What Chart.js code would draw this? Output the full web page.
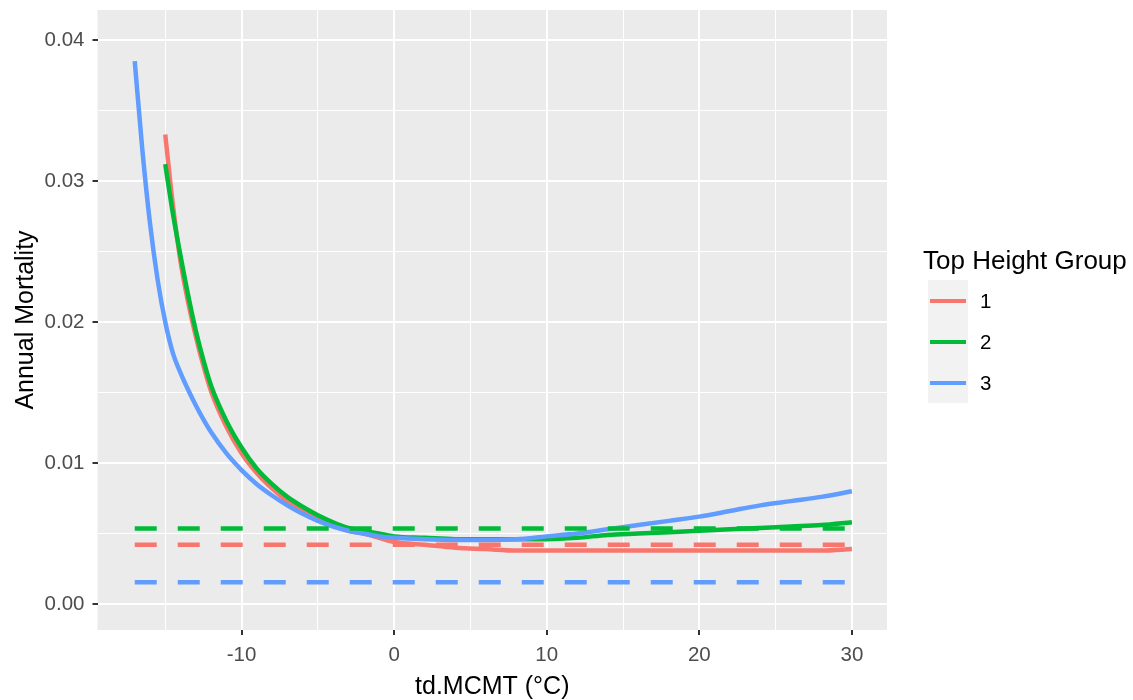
<!DOCTYPE html>
<html>
<head>
<meta charset="utf-8">
<title>Annual Mortality vs td.MCMT</title>
<script src="https://cdn.jsdelivr.net/npm/chart.js@4.4.1/dist/chart.umd.min.js"></script>
<style>
    html, body { margin: 0; padding: 0; background: #ffffff; }
    #wrap { position: relative; width: 1133px; height: 700px; font-family: "Liberation Sans", Arial, sans-serif; }
    #legend { position: absolute; left: 923px; top: 248px; }
    #legend .title { font-size: 26px; line-height: 25px; color: #000; white-space: nowrap; }
    #legend .row { position: relative; height: 41px; }
    #legend .key { position: absolute; left: 5px; top: 0; width: 40px; height: 41px; background: #f2f2f2; }
    #legend .key span { position: absolute; left: 2px; right: 2px; top: 18.5px; height: 4px; }
    #legend .lab { position: absolute; left: 57px; top: 0; line-height: 41px; font-size: 20.5px; color: #000; }
</style>
</head>
<body>
<div id="wrap">
    <canvas id="mortalityChart" width="1133" height="700"></canvas>
    <div id="legend">
        <div class="title">Top Height Group</div>
        <div style="height: 7px"></div>
    </div>
</div>
<script>
// x values (td.MCMT, °C) shared by the fitted curves
const temps = [-17, -16.5, -16, -15.5, -15, -14.5, -14, -13.5, -13, -12.5, -12, -11, -10, -9, -8, -7, -6, -5, -4, -3, -2, -1, 0,
    2, 4, 6, 8, 10, 12, 14, 16, 18, 20, 22, 24, 26, 28, 30];

// fitted annual mortality per top height group (null = outside group's range)
const group1 = [null, null, null, null, 0.0333, 0.0283, 0.0243, 0.0214, 0.0190, 0.0169, 0.0151, 0.0126, 0.0107, 0.0093, 0.0082, 0.0073, 0.0066, 0.0060, 0.0056, 0.0052, 0.0050, 0.0047, 0.0044,
    0.0042, 0.0040, 0.0039, 0.0038, 0.0038, 0.0038, 0.0038, 0.0038, 0.0038, 0.0038, 0.0038, 0.0038, 0.0038, 0.0038, 0.0039];
const group2 = [null, null, null, null, 0.0312, 0.0277, 0.0247, 0.0219, 0.0194, 0.0173, 0.0155, 0.0130, 0.0111, 0.0096, 0.0085, 0.0076, 0.0069, 0.0063, 0.0058, 0.0054, 0.0052, 0.0050, 0.0048,
    0.0047, 0.0046, 0.0046, 0.0046, 0.0046, 0.0047, 0.0049, 0.0050, 0.0051, 0.0052, 0.0053, 0.0054, 0.0055, 0.0056, 0.0058];
const group3 = [0.0385, 0.0322, 0.0270, 0.0230, 0.0200, 0.0178, 0.0164, 0.0152, 0.0141, 0.0131, 0.0122, 0.0107, 0.0095, 0.0085, 0.0077, 0.0070, 0.0064, 0.0059, 0.0055, 0.0052, 0.0050, 0.0048, 0.0047,
    0.0046, 0.00455, 0.00455, 0.0046, 0.0048, 0.0050, 0.0053, 0.0056, 0.0059, 0.0062, 0.0066, 0.0070, 0.0073, 0.0076, 0.0080];

// horizontal reference (dashed) levels per group
const dashRange = [-17, 30];
const baseLevels = [0.0042, 0.00535, 0.00155];

const groupNames = ['1', '2', '3'];
const groupColors = ['#F8766D', '#00BA38', '#619CFF'];

// axis ticks (majors labelled, minors only as grid lines)
const xTicks = [-15, -10, -5, 0, 5, 10, 15, 20, 25, 30];
const yTicks = [0, 0.005, 0.01, 0.015, 0.02, 0.025, 0.03, 0.035, 0.04];

document.addEventListener("DOMContentLoaded", () => {
    const toPoints = (ys) => temps.map((t, i) => ({ x: t, y: ys[i] })).filter(p => p.y !== null);
    const curves = [group1, group2, group3];

    const datasets = [];
    // dashed levels drawn on top
    baseLevels.forEach((lvl, i) => {
        datasets.push({
            data: dashRange.map(x => ({ x: x, y: lvl })),
            borderColor: groupColors[i],
            borderWidth: 4.5,
            borderDash: [22, 21],
            borderCapStyle: 'butt',
            pointRadius: 0,
            order: 0
        });
    });
    // solid curves, group 3 on top like ggplot
    curves.forEach((ys, i) => {
        datasets.push({
            data: toPoints(ys),
            borderColor: groupColors[i],
            borderWidth: 4.5,
            cubicInterpolationMode: 'monotone',
            pointRadius: 0,
            order: 3 - i
        });
    });

    // grey panel background
    const panelBg = {
        id: 'panelBg',
        beforeDraw(chart) {
            const { ctx, chartArea: a } = chart;
            ctx.save();
            ctx.fillStyle = '#EBEBEB';
            ctx.fillRect(a.left, a.top, a.right - a.left, a.bottom - a.top);
            ctx.restore();
        }
    };

    const isMajorX = v => Math.round(v) % 10 === 0;
    const isMajorY = v => Math.round(v * 1000) % 10 === 0;
    const tickFont = { family: '"Liberation Sans", Arial, sans-serif', size: 20.5 };
    const titleFont = { family: '"Liberation Sans", Arial, sans-serif', size: 25, lineHeight: 1 };

    new Chart(document.getElementById('mortalityChart').getContext('2d'), {
        type: 'line',
        data: { datasets: datasets },
        plugins: [panelBg],
        options: {
            responsive: false,
            animation: false,
            devicePixelRatio: 1,
            layout: { padding: { top: 10, right: 246, left: 0, bottom: 0 } },
            plugins: { legend: { display: false }, tooltip: { enabled: false } },
            scales: {
                x: {
                    type: 'linear',
                    min: -19.44,
                    max: 32.3,
                    afterBuildTicks: axis => { axis.ticks = xTicks.map(v => ({ value: v })); },
                    afterFit: axis => { axis.height = 70; axis.paddingLeft = 0; axis.paddingRight = 0; },
                    ticks: {
                        autoSkip: false,
                        maxRotation: 0,
                        padding: 8,
                        color: '#4D4D4D',
                        font: tickFont,
                        callback: v => isMajorX(v) ? String(v) : ''
                    },
                    grid: {
                        color: '#FFFFFF',
                        lineWidth: c => isMajorX(c.tick.value) ? 2 : 1,
                        tickColor: c => isMajorX(c.tick.value) ? '#333333' : 'rgba(0,0,0,0)',
                        tickLength: 5,
                        tickWidth: 2
                    },
                    border: { display: false },
                    title: { display: true, text: 'td.MCMT (°C)', color: '#000', font: titleFont, padding: 0 }
                },
                y: {
                    type: 'linear',
                    min: -0.00184,
                    max: 0.04213,
                    afterBuildTicks: axis => { axis.ticks = yTicks.map(v => ({ value: v })); },
                    afterFit: axis => { axis.width = 97.5; axis.paddingTop = 0; axis.paddingBottom = 0; },
                    ticks: {
                        padding: 8,
                        color: '#4D4D4D',
                        font: tickFont,
                        callback: v => isMajorY(v) ? v.toFixed(2) : ''
                    },
                    grid: {
                        color: '#FFFFFF',
                        lineWidth: c => isMajorY(c.tick.value) ? 2 : 1,
                        tickColor: c => isMajorY(c.tick.value) ? '#333333' : 'rgba(0,0,0,0)',
                        tickLength: 5,
                        tickWidth: 2
                    },
                    border: { display: false },
                    title: { display: true, text: 'Annual Mortality', color: '#000', font: titleFont, padding: { top: 14, bottom: 0 } }
                }
            }
        }
    });

    // ggplot style legend
    const legend = document.getElementById('legend');
    groupNames.forEach((name, i) => {
        const row = document.createElement('div');
        row.className = 'row';
        row.innerHTML = `<div class="key"><span style="background:${groupColors[i]}"></span></div><div class="lab">${name}</div>`;
        legend.appendChild(row);
    });
});
</script>
</body>
</html>
